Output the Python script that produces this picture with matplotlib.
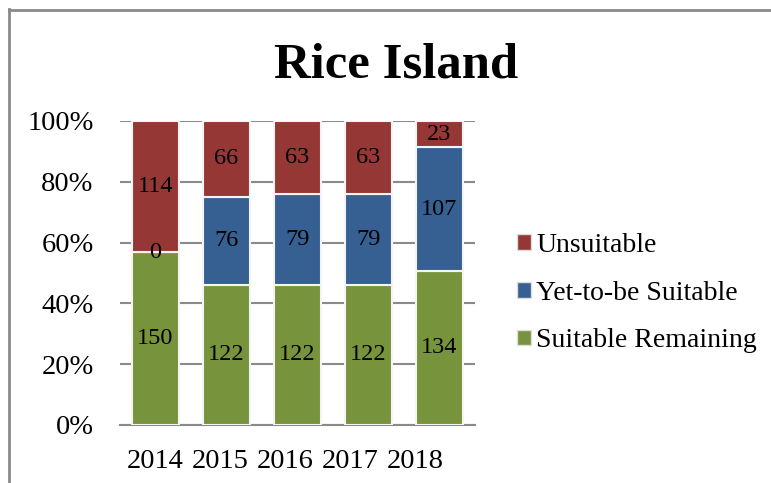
import matplotlib
matplotlib.use("Agg")
import matplotlib.pyplot as plt
from matplotlib.lines import Line2D
from matplotlib.patches import Patch

plt.rcParams['font.family'] = ['Liberation Serif', 'DejaVu Serif']

years = ["2014", "2015", "2016", "2017", "2018"]
suitable = [150, 122, 122, 122, 134]
yet_to_be = [0, 76, 79, 79, 107]
unsuitable = [114, 66, 63, 63, 23]

GREEN = "#77933c"
BLUE = "#376092"
RED = "#953735"

W, H = 771, 483
fig = plt.figure(figsize=(W / 100, H / 100), dpi=100)
ax = fig.add_axes([120 / W, (H - 425) / H, 355 / W, 304 / H])

totals = [a + b + c for a, b, c in zip(suitable, yet_to_be, unsuitable)]
p_s = [v / t * 100 for v, t in zip(suitable, totals)]
p_y = [v / t * 100 for v, t in zip(yet_to_be, totals)]
p_u = [v / t * 100 for v, t in zip(unsuitable, totals)]
bot_u = [a + b for a, b in zip(p_s, p_y)]

x = list(range(len(years)))
bw = 0.65
ek = dict(edgecolor="#f4f4f4", linewidth=1.5, zorder=3)
b1 = ax.bar(x, p_s, bw, color=GREEN, **ek)
b2 = ax.bar(x, p_y, bw, bottom=p_s, color=BLUE, **ek)
b3 = ax.bar(x, p_u, bw, bottom=bot_u, color=RED, **ek)

for bars, vals in ((b1, suitable), (b2, yet_to_be), (b3, unsuitable)):
    ax.bar_label(bars, labels=[str(v) for v in vals], label_type="center",
                 fontsize=17.5, color="black", zorder=5)

ax.set_xlim(-0.5, len(years) - 0.5)
ax.set_ylim(0, 100)
ax.set_yticks(range(0, 101, 20))
ax.set_yticklabels([f"{v}%" for v in range(0, 101, 20)])
# category labels sit a bit tighter than the bars in the original
ax.set_xticks([i * 65 / 71 for i in x])
ax.set_xticklabels(years)
ax.tick_params(axis="both", length=0, labelsize=20.5)
ax.tick_params(axis="y", pad=19)
ax.tick_params(axis="x", pad=17)
ax.yaxis.grid(True, color="#8a8a8a", linewidth=1.5, zorder=0)
ax.set_axisbelow(True)
for s in ["top", "right", "left"]:
    ax.spines[s].set_visible(False)
ax.spines["bottom"].set_color("#8a8a8a")
ax.spines["bottom"].set_linewidth(1.5)

fig.text(396 / W, 1 - 78 / H, "Rice Island", ha="center", va="baseline",
         fontsize=36.5, fontweight="bold")

handles = [Patch(facecolor=RED, edgecolor="#dddddd"),
           Patch(facecolor=BLUE, edgecolor="#dddddd"),
           Patch(facecolor=GREEN, edgecolor="#dddddd")]
fig.legend(handles, ["Unsuitable", "Yet-to-be Suitable", "Suitable Remaining"],
           loc="center left", bbox_to_anchor=(503 / W, 1 - 293 / H),
           frameon=False, fontsize=20, handlelength=0.5, handleheight=0.5,
           handletextpad=0.2, labelspacing=0.82, borderpad=0)

# outer chart frame (left and top edges)
fig.add_artist(Line2D([8.5 / W, 8.5 / W], [0, 1 - 9 / H], color="#8a8a8a",
                      linewidth=2, transform=fig.transFigure))
fig.add_artist(Line2D([8.5 / W, 1], [1 - 9.5 / H, 1 - 9.5 / H], color="#8a8a8a",
                      linewidth=2, transform=fig.transFigure))

fig.savefig("out.png", dpi=100)
